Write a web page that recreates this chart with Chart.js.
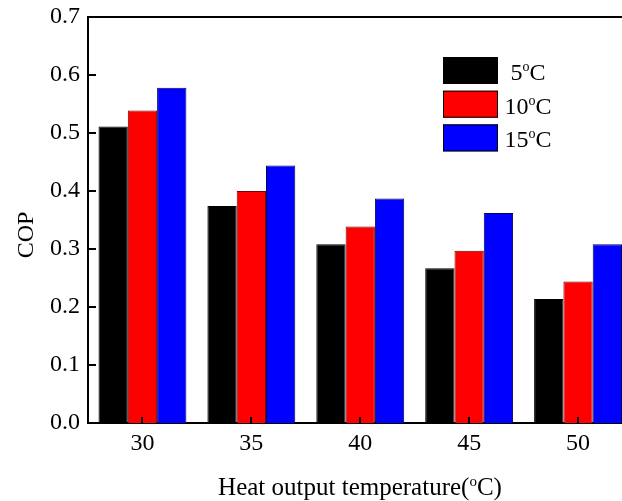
<!DOCTYPE html>
<html>
<head>
<meta charset="utf-8">
<script src="https://cdn.jsdelivr.net/npm/chart.js@4.4.0/dist/chart.umd.min.js"></script>
<style>
  html, body { margin: 0; padding: 0; background: #fff; overflow: hidden; }
  #wrap { position: relative; width: 640px; height: 501px; }
</style>
</head>
<body>
<div id="wrap"><canvas id="copChart" width="640" height="501"></canvas></div>
<script>
// data
const temps = ['30', '35', '40', '45', '50'];
const seriesNames = ['5', '10', '15'];   // evaporator temperature, degC
const cop5 = [0.511, 0.374, 0.308, 0.267, 0.214];
const cop10 = [0.539, 0.400, 0.339, 0.297, 0.244];
const cop15 = [0.578, 0.444, 0.387, 0.362, 0.308];
const yTicks = [0, 0.1, 0.2, 0.3, 0.4, 0.5, 0.6, 0.7];

const fillColors = ['#000000', '#ff0000', '#0000ff'];
const edgeColors = ['#000000', '#7a0000', '#000060'];
const serif = "'Liberation Serif', 'Times New Roman', serif";

// draws prefix, a superscript o, then C + suffix
function drawDeg(ctx, prefix, suffix, x, y, size, align) {
    ctx.font = size + 'px ' + serif;
    const w1 = ctx.measureText(prefix).width;
    const small = Math.round(size * 0.6);
    ctx.font = small + 'px ' + serif;
    const w2 = ctx.measureText('o').width;
    ctx.font = size + 'px ' + serif;
    const w3 = ctx.measureText('C' + suffix).width;
    const total = w1 + w2 + w3;
    let sx = align === 'center' ? x - total / 2 : x;
    ctx.textAlign = 'left';
    ctx.textBaseline = 'alphabetic';
    ctx.fillText(prefix, sx, y);
    ctx.font = small + 'px ' + serif;
    ctx.fillText('o', sx + w1, y - size * 0.38);
    ctx.font = size + 'px ' + serif;
    ctx.fillText('C' + suffix, sx + w1 + w2, y);
}

const framePlugin = {
    id: 'frame',
    afterDraw(chart) {
        const ctx = chart.ctx;
        const a = chart.chartArea;
        const xs = chart.scales.x;
        const ys = chart.scales.y;
        ctx.save();
        ctx.strokeStyle = '#000';
        ctx.lineWidth = 2;
        // top frame line
        ctx.beginPath();
        ctx.moveTo(a.left, a.top);
        ctx.lineTo(a.right, a.top);
        ctx.stroke();
        // inward ticks
        ctx.beginPath();
        yTicks.slice(1, -1).forEach(v => {
            const py = Math.round(ys.getPixelForValue(v));
            ctx.moveTo(a.left, py);
            ctx.lineTo(a.left + 8, py);
        });
        temps.forEach((t, i) => {
            const px = Math.round(xs.getPixelForValue(i));
            ctx.moveTo(px, a.bottom);
            ctx.lineTo(px, a.bottom - 6);
        });
        ctx.stroke();

        // legend
        chart.data.datasets.forEach((ds, i) => {
            const bx = 443, by = 57 + i * 33.7;
            ctx.fillStyle = ds.backgroundColor;
            ctx.fillRect(bx, by, 55, 27);
            ctx.lineWidth = 1;
            ctx.strokeStyle = '#000';
            ctx.strokeRect(bx + 0.5, by + 0.5, 54, 26);
            ctx.fillStyle = '#000';
            drawDeg(ctx, ds.label, '', 528, by + 23, 24, 'center');
        });

        // axis titles
        drawDeg(ctx, 'Heat output temperature(', ')', 360, 495, 25, 'center');
        ctx.translate(33, 235);
        ctx.rotate(-Math.PI / 2);
        ctx.font = '24px ' + serif;
        ctx.textAlign = 'center';
        ctx.fillText('COP', 0, 0);
        ctx.restore();
    }
};

const ctx = document.getElementById('copChart').getContext('2d');
const copChart = new Chart(ctx, {
    type: 'bar',
    data: {
        labels: temps,
        datasets: [cop5, cop10, cop15].map((vals, i) => ({
            label: seriesNames[i],
            data: vals,
            backgroundColor: fillColors[i],
            borderColor: edgeColors[i],
            borderWidth: 1,
            borderSkipped: 'bottom',
            barPercentage: 1.0,
            categoryPercentage: 0.807
        }))
    },
    options: {
        responsive: false,
        animation: false,
        layout: { padding: { top: 17, right: 7.5, left: 0, bottom: 0 } },
        plugins: {
            legend: { display: false },
            tooltip: { enabled: false }
        },
        scales: {
            x: {
                grid: { display: false, drawTicks: false },
                border: { display: true, color: '#000', width: 2 },
                ticks: {
                    color: '#000',
                    padding: 6,
                    font: { family: serif, size: 24 }
                },
                afterFit(scale) {
                    scale.height = 78;
                    scale.paddingLeft = 0;
                    scale.paddingRight = 0;
                }
            },
            y: {
                min: 0,
                max: 0.7,
                grid: { display: false, drawTicks: false },
                border: { display: true, color: '#000', width: 2 },
                afterBuildTicks(scale) {
                    scale.ticks = yTicks.map(v => ({ value: v }));
                },
                ticks: {
                    color: '#000',
                    padding: 8,
                    font: { family: serif, size: 24 },
                    callback: v => v.toFixed(1)
                },
                afterFit(scale) {
                    scale.width = 88;
                    scale.paddingTop = 0;
                    scale.paddingBottom = 0;
                }
            }
        }
    },
    plugins: [framePlugin]
});
</script>
</body>
</html>
